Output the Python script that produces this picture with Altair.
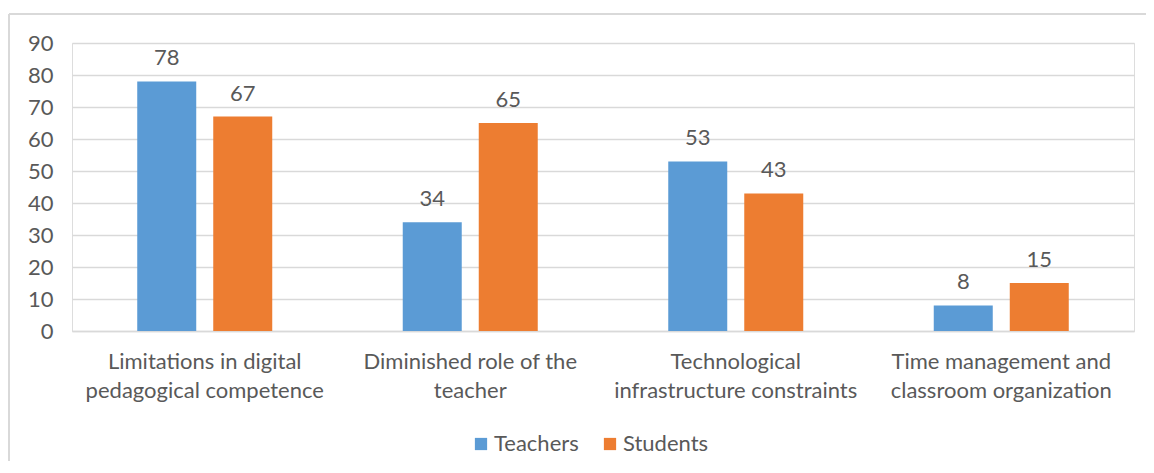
import altair as alt
import pandas as pd

categories = [
    "Limitations in digital\npedagogical competence",
    "Diminished role of the\nteacher",
    "Technological\ninfrastructure constraints",
    "Time management and\nclassroom organization",
]
series = ["Teachers", "Students"]
teachers = [78, 34, 53, 8]
students = [67, 65, 43, 15]
colors = ["#5B9BD5", "#ED7D31"]

rows = []
for c, t, s in zip(categories, teachers, students):
    rows.append({"category": c, "group": "Teachers", "value": t})
    rows.append({"category": c, "group": "Students", "value": s})
df = pd.DataFrame(rows)

FONT = "Lato"
TXT = "#595959"
FS = 22
W, H = 1062, 288

x = alt.X("category:N", sort=categories, title=None,
          scale=alt.Scale(paddingInner=0.4915, paddingOuter=0.2457),
          axis=alt.Axis(labelAngle=0, labelExpr="split(datum.label, '\\n')",
                        labelFontSize=FS, labelFont=FONT, labelColor=TXT,
                        labelPadding=20, labelLineHeight=29, labelLimit=0,
                        ticks=False, domain=True, domainColor="#d9d9d9",
                        domainWidth=1.5, grid=False))
xo = alt.XOffset("group:N", sort=series,
                 scale=alt.Scale(paddingInner=0.2237, paddingOuter=0))
y = alt.Y("value:Q", title=None,
          scale=alt.Scale(domain=[0, 90], nice=False),
          axis=alt.Axis(values=list(range(0, 100, 10)), labelFontSize=FS,
                        labelFont=FONT, labelColor=TXT, ticks=False,
                        domain=False, gridColor="#d9d9d9", gridWidth=1.5,
                        labelPadding=19))
color = alt.Color("group:N", sort=series,
                  scale=alt.Scale(domain=series, range=colors),
                  legend=alt.Legend(title=None, orient="none", direction="horizontal",
                                    legendX=398, legendY=390,
                                    symbolType="square", symbolSize=150,
                                    symbolStrokeWidth=0, labelFontSize=FS,
                                    labelFont=FONT, labelColor=TXT,
                                    columnPadding=20, labelOffset=2))

base = alt.Chart(df).encode(x=x, xOffset=xo, y=y)
bars = base.mark_bar(size=59).encode(color=color)
labels = base.mark_text(baseline="bottom", dy=-11, fontSize=FS, font=FONT,
                        color=TXT).encode(text=alt.Text("value:Q"))

border_df = pd.DataFrame({"a": [0]})
top_border = alt.Chart(border_df).mark_rule(color="#d9d9d9", strokeWidth=2).encode(
    x=alt.value(-63), x2=alt.value(1100), y=alt.value(-29))
left_border = alt.Chart(border_df).mark_rule(color="#d9d9d9", strokeWidth=2).encode(
    x=alt.value(-63), y=alt.value(-29), y2=alt.value(440))

chart = alt.layer(top_border, left_border, bars, labels).properties(
    width=W, height=H,
    autosize=alt.AutoSizeParams(type="none"),
    padding={"left": 64, "top": 35, "right": 12, "bottom": 130},
).configure_view(stroke=None).configure(background="white")

chart.save("out.html", embed_options={"renderer": "svg", "actions": False})
